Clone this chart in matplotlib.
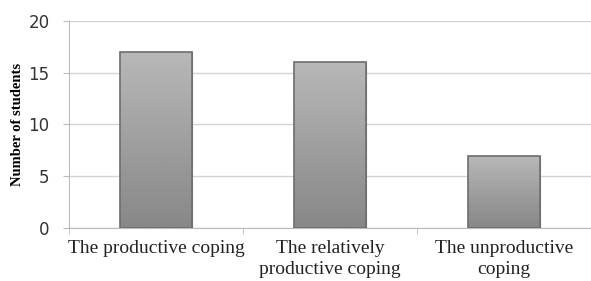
import numpy as np
import matplotlib
matplotlib.use('Agg')
from matplotlib import pyplot as plt

categories = ['The productive coping', 'The relatively\nproductive coping', 'The unproductive\ncoping']
students = [17, 16, 7]
yticks = [0, 5, 10, 15, 20]

fig = plt.figure(figsize=(5.91, 2.81), dpi=100)
ax = fig.add_axes([0.117, 0.189, 0.883, 0.736])

x = np.arange(len(categories))
bars = ax.bar(x, students, width=0.41, color='#a8a8a8', edgecolor='#7a7a7a', linewidth=0.8, zorder=3)

# vertical gray gradient inside each bar
grad = np.linspace(0.53, 0.72, 100).reshape(-1, 1)
for b in bars:
    x0, y0 = b.get_x(), b.get_y()
    w, h = b.get_width(), b.get_height()
    im = ax.imshow(grad, cmap='gray', vmin=0, vmax=1, origin='lower', aspect='auto',
                   extent=[x0, x0 + w, y0, y0 + h], zorder=3.5)
    im.set_clip_path(b)
    ax.bar(b.get_x() + w / 2, h, width=w, fill=False, edgecolor='#6e6e6e', linewidth=1.2, zorder=4)

ax.set_xlim(-0.5, len(categories) - 0.5)
ax.set_ylim(0, 20)
ax.set_yticks(yticks)
ax.yaxis.grid(True, color='#d4d4d4', linewidth=1.0, zorder=0)
ax.set_axisbelow(True)

ax.set_xticks(x)
ax.set_xticklabels(categories, family='Liberation Serif', fontsize=14, color='#222222', linespacing=1.25)
ax.tick_params(axis='x', length=0, pad=9)
ax.set_xticks(np.arange(-0.5, len(categories)), minor=True)
ax.tick_params(axis='x', which='minor', length=4, color='#bbbbbb')
ax.tick_params(axis='y', length=4, color='#bbbbbb', labelsize=12, labelcolor='#333333', pad=10)

ax.set_ylabel('Number of students', family='Liberation Serif', fontweight='bold', fontsize=10.5, labelpad=3)

for s in ['top', 'right']:
    ax.spines[s].set_visible(False)
ax.spines['left'].set_color('#bbbbbb')
ax.spines['bottom'].set_color('#bbbbbb')

fig.savefig('out.png', dpi=100)
